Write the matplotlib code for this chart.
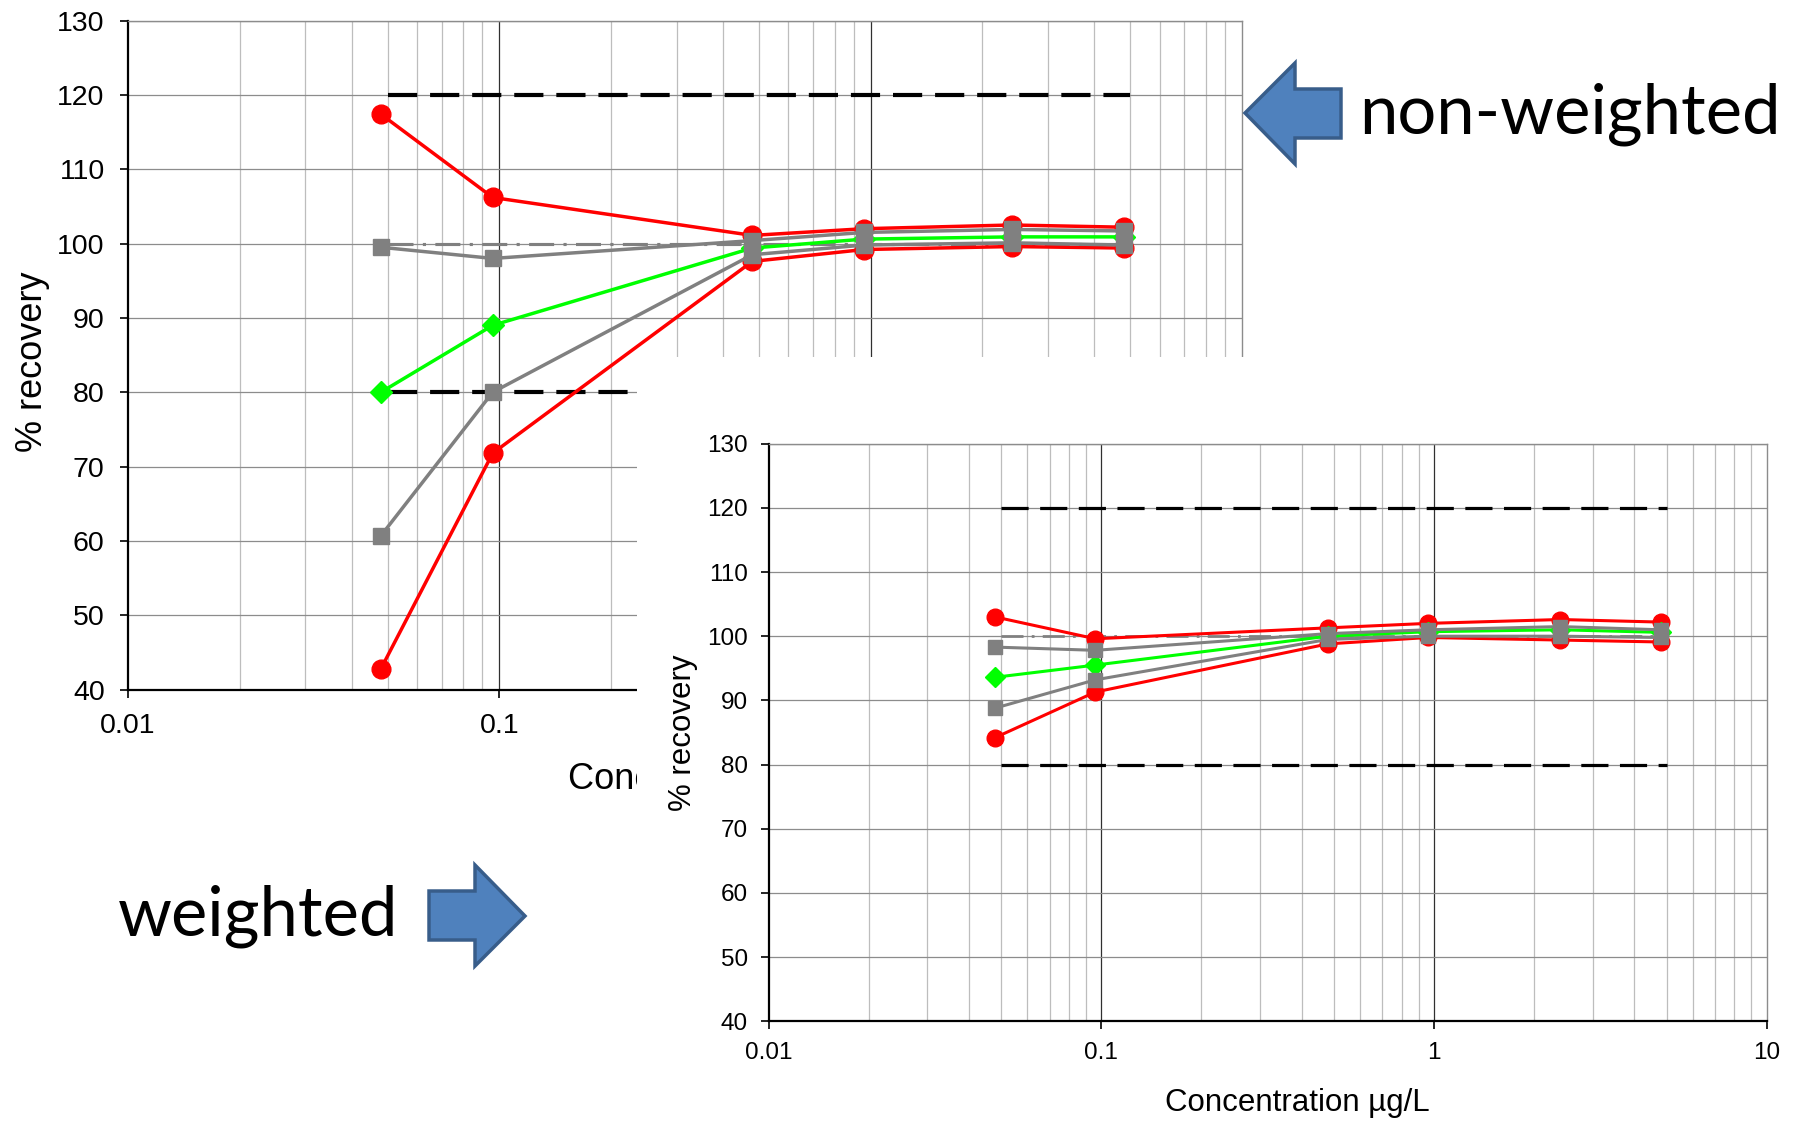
import matplotlib
matplotlib.use("Agg")
import matplotlib.pyplot as plt
from matplotlib.patches import Polygon
from matplotlib.ticker import FixedLocator, NullFormatter

# ---------------- data ----------------
conc = [0.048, 0.096, 0.48, 0.96, 2.4, 4.8]

nw_red_hi = [117.4, 106.2, 101.1, 102.0, 102.5, 102.2]
nw_gray_hi = [99.5, 98.0, 100.4, 101.5, 101.9, 101.7]
nw_green = [80.0, 89.0, 99.4, 100.6, 100.9, 100.9]
nw_gray_lo = [60.7, 80.0, 98.5, 99.8, 100.1, 99.8]
nw_red_lo = [42.8, 71.8, 97.6, 99.2, 99.6, 99.4]

w_red_hi = [103.0, 99.6, 101.3, 102.0, 102.6, 102.2]
w_gray_hi = [98.3, 97.8, 100.4, 101.0, 101.5, 101.0]
w_green = [93.6, 95.5, 100.0, 100.7, 101.0, 100.6]
w_gray_lo = [88.8, 93.2, 99.5, 100.0, 100.0, 99.8]
w_red_lo = [84.2, 91.3, 98.8, 99.8, 99.4, 99.1]

limit_x = [0.05, 5]
limit_hi = 120
limit_lo = 80
target = 100

x_ticks = [0.01, 0.1, 1, 10]
x_ticklabels = ["0.01", "0.1", "1", "10"]
y_ticks = [40, 50, 60, 70, 80, 90, 100, 110, 120, 130]

xlabel = "Concentration µg/L"
ylabel = "% recovery"

RED = "#FF0000"
GREEN = "#00FF00"
GRAY = "#808080"

W, H = 1793, 1122
fig = plt.figure(figsize=(W / 100, H / 100), dpi=100)
fig.patch.set_facecolor("white")

def frame(left, top, right, bottom):
    return [left / W, (H - bottom) / H, (right - left) / W, (bottom - top) / H]


def style_axes(ax, tick_fs, label_fs, xlab_pos, xlab_ha, ylab_pos, pad):
    ax.set_xscale("log")
    ax.set_xlim(0.01, 10)
    ax.set_ylim(40, 130)
    minor = [m * d for d in [0.01, 0.1, 1] for m in range(2, 10)]
    ax.xaxis.set_major_locator(FixedLocator(x_ticks))
    ax.xaxis.set_minor_locator(FixedLocator(minor))
    ax.xaxis.set_minor_formatter(NullFormatter())
    ax.set_xticks(x_ticks)
    ax.set_xticklabels(x_ticklabels)
    ax.set_yticks(y_ticks)
    ax.tick_params(axis="both", which="major", direction="out", length=8 * 0.72,
                   width=1.2, labelsize=tick_fs, pad=pad, colors="black")
    ax.tick_params(axis="x", which="minor", length=0)
    for lab in ax.get_xticklabels() + ax.get_yticklabels():
        lab.set_fontfamily(["Liberation Sans", "DejaVu Sans"])
    ax.grid(False)
    for v in minor:
        ax.axvline(v, color="#BDBDBD", lw=0.9, zorder=0.5)
    for v in x_ticks[1:3]:
        ax.axvline(v, color="#303030", lw=0.9, zorder=0.6)
    for v in y_ticks:
        ax.axhline(v, color="#8C8C8C", lw=0.9, zorder=0.6)
    for s in ["top", "right"]:
        ax.spines[s].set_color("#8C8C8C")
        ax.spines[s].set_linewidth(1.0)
    for s in ["left", "bottom"]:
        ax.spines[s].set_color("black")
        ax.spines[s].set_linewidth(1.6)
    ax.set_xlabel(xlabel, fontsize=label_fs, family=["Liberation Sans", "DejaVu Sans"])
    ax.set_ylabel(ylabel, fontsize=label_fs, family=["Liberation Sans", "DejaVu Sans"])
    ax.xaxis.set_label_coords(*xlab_pos)
    ax.xaxis.label.set_horizontalalignment(xlab_ha)
    ax.xaxis.label.set_verticalalignment("center")
    ax.yaxis.set_label_coords(*ylab_pos)
    ax.yaxis.label.set_verticalalignment("center")


def draw_series(ax, red_hi, gray_hi, green, gray_lo, red_lo, lw, ms_c, ms_s, ms_d, dash_lw, dashes):
    ax.plot(limit_x, [limit_hi, limit_hi], color="black", lw=dash_lw, dashes=dashes, zorder=2)
    ax.plot(limit_x, [limit_lo, limit_lo], color="black", lw=dash_lw, dashes=dashes, zorder=2)
    ax.plot(limit_x, [target, target], color=GRAY, lw=lw * 0.9, dashes=(8, 3, 1, 3), zorder=2)
    for ys in (red_hi, red_lo):
        ax.plot(conc, ys, color=RED, lw=lw, marker="o", ms=ms_c, mec=RED, mfc=RED, zorder=3)
    ax.plot(conc, green, color=GREEN, lw=lw, marker="D", ms=ms_d, mec=GREEN, mfc=GREEN, zorder=4)
    for ys in (gray_hi, gray_lo):
        ax.plot(conc, ys, color=GRAY, lw=lw, marker="s", ms=ms_s, mec=GRAY, mfc=GRAY, zorder=5)


# -------- top (non-weighted) chart --------
ax_top = fig.add_axes(frame(128, 20.6, 1242, 689.5))
ax_top.set_zorder(1)
style_axes(ax_top, tick_fs=20.5, label_fs=26,
           xlab_pos=(0.395, -0.135), xlab_ha="left", ylab_pos=(-0.086, 0.49), pad=11)
draw_series(ax_top, nw_red_hi, nw_gray_hi, nw_green, nw_gray_lo, nw_red_lo,
            lw=2.5, ms_c=13.5, ms_s=12, ms_d=11.5, dash_lw=3.0, dashes=(7, 3.1))

# -------- white cover (second pasted chart) --------
ax_cover = fig.add_axes(frame(637, 357, W, H))
ax_cover.set_zorder(2)
ax_cover.set_facecolor("white")
ax_cover.set_xticks([])
ax_cover.set_yticks([])
for s in ax_cover.spines.values():
    s.set_visible(False)

# -------- bottom (weighted) chart --------
ax_bot = fig.add_axes(frame(768.5, 443.7, 1766.7, 1021.2))
ax_bot.set_zorder(3)
style_axes(ax_bot, tick_fs=17.5, label_fs=22.5,
           xlab_pos=(0.53, -0.1425), xlab_ha="center", ylab_pos=(-0.0857, 0.5), pad=9)
draw_series(ax_bot, w_red_hi, w_gray_hi, w_green, w_gray_lo, w_red_lo,
            lw=2.2, ms_c=12, ms_s=10.5, ms_d=10, dash_lw=2.3, dashes=(8.5, 3.6))

# -------- arrows and captions --------
def fig_pts(pts):
    return [(x / W, (H - y) / H) for x, y in pts]

arrow_left = [(1245, 113), (1295, 63), (1295, 89), (1341, 89), (1341, 138), (1295, 138), (1295, 164)]
arrow_right = [(525, 916), (475, 865), (475, 891), (429, 891), (429, 940), (475, 940), (475, 966)]
for pts in (arrow_left, arrow_right):
    fig.patches.append(Polygon(fig_pts(pts), closed=True, transform=fig.transFigure,
                               facecolor="#4F81BD", edgecolor="#385D8A", lw=2.5, zorder=10))

fig.text(1359 / W, (H - 133) / H, "non-weighted", fontsize=49.5, family=["Lato", "DejaVu Sans"],
         ha="left", va="baseline", zorder=11)
fig.text(118 / W, (H - 935) / H, "weighted", fontsize=49.5, family=["Lato", "DejaVu Sans"],
         ha="left", va="baseline", zorder=11)

fig.savefig("out.png", dpi=100, facecolor="white")
